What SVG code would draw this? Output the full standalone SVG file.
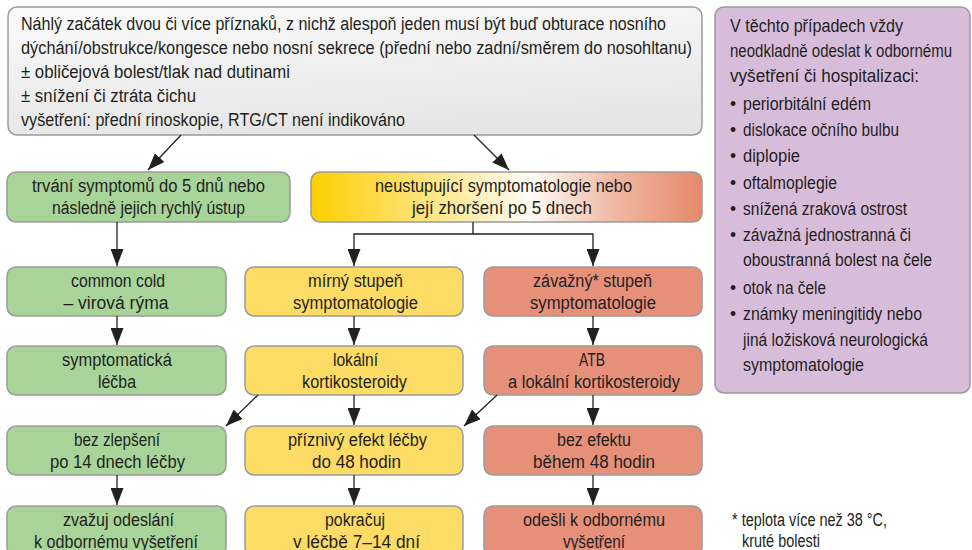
<svg xmlns="http://www.w3.org/2000/svg" width="972" height="550" viewBox="0 0 972 550">
<defs>
<linearGradient id="gTop" x1="0" y1="0" x2="0.3" y2="1">
<stop offset="0" stop-color="#fbfbfb"/>
<stop offset="1" stop-color="#e6e6e6"/>
</linearGradient>
<linearGradient id="gMix" x1="0" y1="0" x2="1" y2="0">
<stop offset="0" stop-color="#fcd000"/>
<stop offset="0.25" stop-color="#fde06a"/>
<stop offset="0.56" stop-color="#fffcf6"/>
<stop offset="0.78" stop-color="#efb7a1"/>
<stop offset="1" stop-color="#e5896c"/>
</linearGradient>
<marker id="ah" markerUnits="userSpaceOnUse" markerWidth="18" markerHeight="13" refX="17" refY="6.5" orient="auto">
<path d="M0,0 L17,6.5 L0,13 z" fill="#231f20"/>
</marker>
</defs>
<style>
.box{stroke:#9b9b9b;stroke-width:1.5}
.green{fill:#a8d49a}
.yellow{fill:#fddc66}
.salmon{fill:#e6907a}
.purple{fill:#d8bddb}
text{font-family:"Liberation Sans","DejaVu Sans",sans-serif;font-size:18px;fill:#231f20}
.c{text-anchor:middle}
.p text{font-size:17.5px}
.conn{stroke:#231f20;stroke-width:1.3;fill:none;marker-end:url(#ah)}
</style>

<g id="top">
<rect class="box" x="8" y="7" width="694" height="128" rx="9" fill="url(#gTop)"/>
<text x="21" y="30" textLength="645" lengthAdjust="spacingAndGlyphs">Náhlý začátek dvou či více příznaků, z nichž alespoň jeden musí být buď obturace nosního</text>
<text x="21" y="54" textLength="671" lengthAdjust="spacingAndGlyphs">dýchání/obstrukce/kongesce nebo nosní sekrece (přední nebo zadní/směrem do nosohltanu)</text>
<text x="21" y="78" textLength="269" lengthAdjust="spacingAndGlyphs">± obličejová bolest/tlak nad dutinami</text>
<text x="21" y="102" textLength="175" lengthAdjust="spacingAndGlyphs">± snížení či ztráta čichu</text>
<text x="21" y="126" textLength="384" lengthAdjust="spacingAndGlyphs">vyšetření: přední rinoskopie, RTG/CT není indikováno</text>
</g>

<g id="warning" class="p">
<rect class="box purple" x="715" y="7" width="255" height="386" rx="9"/>
<text x="730" y="32" textLength="173" lengthAdjust="spacingAndGlyphs">V těchto případech vždy</text>
<text x="730" y="57" textLength="222" lengthAdjust="spacingAndGlyphs">neodkladně odeslat k odbornému</text>
<text x="730" y="82" textLength="189" lengthAdjust="spacingAndGlyphs">vyšetření či hospitalizaci:</text>
<text x="730" y="110">•</text><text x="743" y="110" textLength="128" lengthAdjust="spacingAndGlyphs">periorbitální edém</text>
<text x="730" y="136">•</text><text x="743" y="136" textLength="156" lengthAdjust="spacingAndGlyphs">dislokace očního bulbu</text>
<text x="730" y="162">•</text><text x="743" y="162" textLength="57" lengthAdjust="spacingAndGlyphs">diplopie</text>
<text x="730" y="189">•</text><text x="743" y="189" textLength="94" lengthAdjust="spacingAndGlyphs">oftalmoplegie</text>
<text x="730" y="215">•</text><text x="743" y="215" textLength="164" lengthAdjust="spacingAndGlyphs">snížená zraková ostrost</text>
<text x="730" y="241">•</text><text x="743" y="241" textLength="168" lengthAdjust="spacingAndGlyphs">závažná jednostranná či</text>
<text x="743" y="266" textLength="189" lengthAdjust="spacingAndGlyphs">oboustranná bolest na čele</text>
<text x="730" y="294">•</text><text x="743" y="294" textLength="83" lengthAdjust="spacingAndGlyphs">otok na čele</text>
<text x="730" y="320">•</text><text x="743" y="320" textLength="179" lengthAdjust="spacingAndGlyphs">známky meningitidy nebo</text>
<text x="743" y="346" textLength="185" lengthAdjust="spacingAndGlyphs">jiná ložisková neurologická</text>
<text x="743" y="371" textLength="121" lengthAdjust="spacingAndGlyphs">symptomatologie</text>
</g>

<g id="short">
<rect class="box green" x="7" y="172" width="283" height="50" rx="9"/>
<text class="c" x="148.5" y="192" textLength="233" lengthAdjust="spacingAndGlyphs">trvání symptomů do 5 dnů nebo</text>
<text class="c" x="148.5" y="214" textLength="193" lengthAdjust="spacingAndGlyphs">následně jejich rychlý ústup</text>
</g>
<g id="persist">
<rect class="box" x="311" y="172" width="391" height="50" rx="9" fill="url(#gMix)"/>
<text class="c" x="503.5" y="192" textLength="257" lengthAdjust="spacingAndGlyphs">neustupující symptomatologie nebo</text>
<text class="c" x="502" y="214" textLength="180" lengthAdjust="spacingAndGlyphs">její zhoršení po 5 dnech</text>
</g>

<g id="cold">
<rect class="box green" x="7" y="267" width="219" height="49" rx="9"/>
<text class="c" x="118" y="286.5" textLength="94" lengthAdjust="spacingAndGlyphs">common cold</text>
<text class="c" x="116" y="308.5" textLength="105" lengthAdjust="spacingAndGlyphs">– virová rýma</text>
</g>
<g id="mild">
<rect class="box yellow" x="245" y="267" width="218" height="49" rx="9"/>
<text class="c" x="355.5" y="286.5" textLength="95" lengthAdjust="spacingAndGlyphs">mírný stupeň</text>
<text class="c" x="355.5" y="308.5" textLength="125" lengthAdjust="spacingAndGlyphs">symptomatologie</text>
</g>
<g id="severe">
<rect class="box salmon" x="484" y="267" width="218" height="49" rx="9"/>
<text class="c" x="592.5" y="286.5" textLength="119" lengthAdjust="spacingAndGlyphs">závažný* stupeň</text>
<text class="c" x="593" y="308.5" textLength="126" lengthAdjust="spacingAndGlyphs">symptomatologie</text>
</g>

<g id="symptomatic">
<rect class="box green" x="7" y="346" width="219" height="49" rx="9"/>
<text class="c" x="117" y="365.5" textLength="110" lengthAdjust="spacingAndGlyphs">symptomatická</text>
<text class="c" x="117" y="387.5" textLength="38" lengthAdjust="spacingAndGlyphs">léčba</text>
</g>
<g id="steroids">
<rect class="box yellow" x="245" y="346" width="218" height="49" rx="9"/>
<text class="c" x="355.5" y="365.5" textLength="45" lengthAdjust="spacingAndGlyphs">lokální</text>
<text class="c" x="354.5" y="387.5" textLength="105" lengthAdjust="spacingAndGlyphs">kortikosteroidy</text>
</g>
<g id="atb">
<rect class="box salmon" x="484" y="346" width="218" height="49" rx="9"/>
<text class="c" x="592" y="365.5" textLength="26" lengthAdjust="spacingAndGlyphs">ATB</text>
<text class="c" x="594" y="387.5" textLength="172" lengthAdjust="spacingAndGlyphs">a lokální kortikosteroidy</text>
</g>

<g id="noimprove">
<rect class="box green" x="7" y="426" width="219" height="49" rx="9"/>
<text class="c" x="117" y="445.5" textLength="86" lengthAdjust="spacingAndGlyphs">bez zlepšení</text>
<text class="c" x="117.5" y="467.5" textLength="135" lengthAdjust="spacingAndGlyphs">po 14 dnech léčby</text>
</g>
<g id="effect">
<rect class="box yellow" x="245" y="426" width="218" height="49" rx="9"/>
<text class="c" x="357.5" y="445.5" textLength="139" lengthAdjust="spacingAndGlyphs">příznivý efekt léčby</text>
<text class="c" x="356.5" y="467.5" textLength="89" lengthAdjust="spacingAndGlyphs">do 48 hodin</text>
</g>
<g id="noeffect">
<rect class="box salmon" x="484" y="426" width="218" height="49" rx="9"/>
<text class="c" x="594" y="445.5" textLength="74" lengthAdjust="spacingAndGlyphs">bez efektu</text>
<text class="c" x="594" y="467.5" textLength="122" lengthAdjust="spacingAndGlyphs">během 48 hodin</text>
</g>

<g id="consider">
<rect class="box green" x="7" y="506" width="219" height="50" rx="9"/>
<text class="c" x="118.5" y="526" textLength="111" lengthAdjust="spacingAndGlyphs">zvažuj odeslání</text>
<text class="c" x="116" y="548" textLength="164" lengthAdjust="spacingAndGlyphs">k odbornému vyšetření</text>
</g>
<g id="continue">
<rect class="box yellow" x="245" y="506" width="218" height="50" rx="9"/>
<text class="c" x="355" y="526" textLength="60" lengthAdjust="spacingAndGlyphs">pokračuj</text>
<text class="c" x="356.5" y="548" textLength="127" lengthAdjust="spacingAndGlyphs">v léčbě 7–14 dní</text>
</g>
<g id="refer">
<rect class="box salmon" x="484" y="506" width="218" height="50" rx="9"/>
<text class="c" x="594" y="526" textLength="142" lengthAdjust="spacingAndGlyphs">odešli k odbornému</text>
<text class="c" x="594" y="548" textLength="62" lengthAdjust="spacingAndGlyphs">vyšetření</text>
</g>

<g id="connectors">
<path class="conn" d="M181,135 L148,170"/>
<path class="conn" d="M474,135 L509,170"/>
<path class="conn" d="M117,222 V266"/>
<path class="conn" d="M473,222 V234 H354 V266"/>
<path class="conn" d="M473,234 H593 V266"/>
<path class="conn" d="M117,316 V345"/>
<path class="conn" d="M354,316 V345"/>
<path class="conn" d="M593,316 V345"/>
<path class="conn" d="M258,395 L226,426"/>
<path class="conn" d="M354,395 V425"/>
<path class="conn" d="M497,395 L464,426"/>
<path class="conn" d="M593,395 V425"/>
<path class="conn" d="M117,475 V505"/>
<path class="conn" d="M354,475 V505"/>
<path class="conn" d="M593,475 V505"/>
</g>

<g id="footnote">
<text x="732" y="526" textLength="155" lengthAdjust="spacingAndGlyphs">* teplota více než 38 °C,</text>
<text x="742" y="547" textLength="78" lengthAdjust="spacingAndGlyphs">kruté bolesti</text>
</g>
</svg>
